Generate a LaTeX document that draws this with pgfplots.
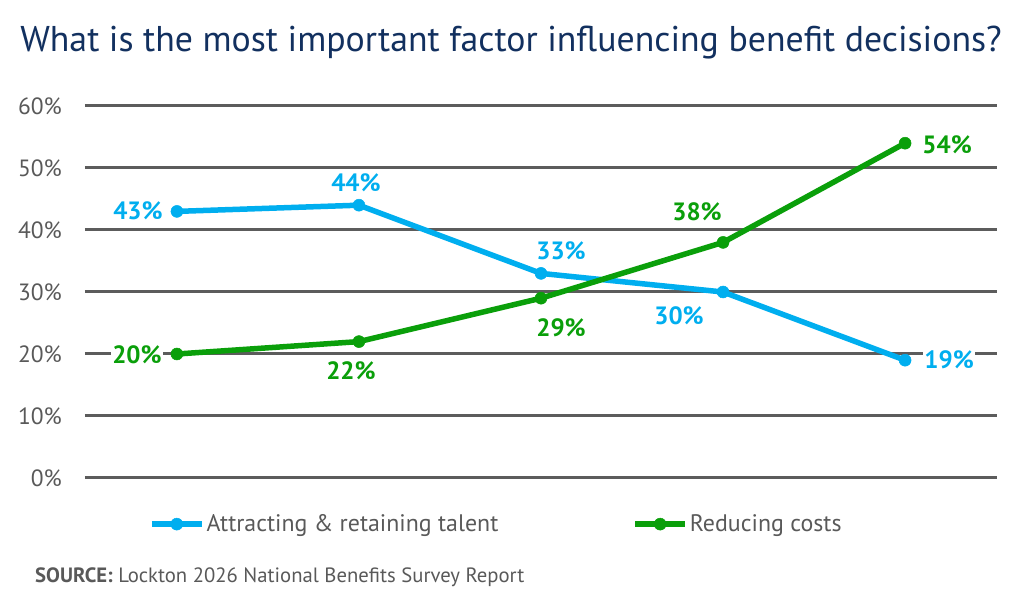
\documentclass[border=0pt]{standalone}
\usepackage{pgfplots}
\pgfplotsset{compat=1.18}
\usepackage{pgfplotstable}
\usepackage{fontspec}
\setmainfont{PT Sans}
\definecolor{navy}{HTML}{12305F}
\definecolor{cblue}{HTML}{00AEEF}
\definecolor{cgreen}{HTML}{0A9F0A}
\definecolor{textgray}{HTML}{595959}
\definecolor{gridgray}{HTML}{5C5C5C}

\pgfplotstableread{
x y dx dy
0 43 -39 1
1 44 -3 22
2 33 20 23
3 30 -44 -24
4 19 44 0
}\talent
\pgfplotstableread{
x y dx dy
0 20 -40 -1
1 22 -8 -29
2 29 20 -30
3 38 -26 31
4 54 42 -2
}\costs

\begin{document}
\begin{tikzpicture}[x=1pt,y=1pt]
\path[use as bounding box] (0,0) rectangle (1024,612);
\node[anchor=base, text=navy, font=\fontsize{35.8}{40}\selectfont, inner sep=0pt] at (511,560) {What is the most important factor influencing benefit decisions?};
\node[anchor=base west, text=textgray, font=\fontsize{20.7}{24}\selectfont, inner sep=0pt] at (35,29) {\textbf{SOURCE:} Lockton 2026 National Benefits Survey Report};
\begin{axis}[
  at={(85pt,134pt)}, anchor=south west,
  scale only axis, width=912pt, height=372pt,
  xmin=-0.505, xmax=4.505, ymin=0, ymax=60,
  ytick={0,10,...,60}, xtick=\empty,
  ymajorgrids, grid style={line width=3pt, color=gridgray},
  axis line style={draw=none},
  major tick length=0pt,
  /pgf/number format/assume math mode=true,
  yticklabel={\pgfmathprintnumber{\tick}\%},
  yticklabel style={anchor=east, inner sep=0pt, xshift=-23pt, text=textgray, font=\fontsize{23.5}{26}\selectfont},
  clip=false,
  legend columns=2,
  legend style={draw=none, fill=none, at={(0.070,-0.124)}, anchor=west, inner sep=0pt,
    font=\fontsize{23.9}{28}\selectfont, text=textgray,
    /tikz/every even column/.append style={column sep=132pt}},
  legend image code/.code={\draw[#1, mark repeat=2, mark phase=2] plot coordinates {(0pt,0pt)(25pt,0pt)(50pt,0pt)};},
  every axis plot/.append style={line width=5.5pt, mark=*, mark size=6pt, mark options={solid, line width=0.5pt}},
  nodes near coords={\pgfmathprintnumber{\pgfplotspointmeta}\%},
  point meta=explicit,
  visualization depends on={\thisrow{dx}\as\dx},
  visualization depends on={\thisrow{dy}\as\dy},
]
\addplot[color=cblue, every node near coord/.append style={anchor=center, xshift=\dx, yshift=\dy, text=cblue, fill=white, inner sep=1pt, font=\fontsize{25}{28}\selectfont\bfseries}]
  table[x=x, y=y, meta=y] {\talent};
\addlegendentry{Attracting \& retaining talent}
\addplot[color=cgreen, every node near coord/.append style={anchor=center, xshift=\dx, yshift=\dy, text=cgreen, fill=white, inner sep=1pt, font=\fontsize{25}{28}\selectfont\bfseries}]
  table[x=x, y=y, meta=y] {\costs};
\addlegendentry{Reducing costs}
\end{axis}
\end{tikzpicture}
\end{document}
